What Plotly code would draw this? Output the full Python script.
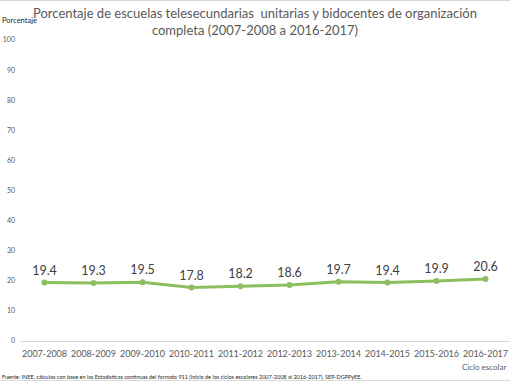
import plotly.graph_objects as go

ciclos = ["2007-2008", "2008-2009", "2009-2010", "2010-2011", "2011-2012",
          "2012-2013", "2013-2014", "2014-2015", "2015-2016", "2016-2017"]
porcentaje = [19.4, 19.3, 19.5, 17.8, 18.2, 18.6, 19.7, 19.4, 19.9, 20.6]

titulo = "Porcentaje de escuelas telesecundarias  unitarias y bidocentes de organización<br>completa (2007-2008 a 2016-2017)"
fuente = "Fuente: INEE, cálculos con base en las Estadísticas continuas del formato 911 (inicio de los ciclos escolares 2007-2008 al 2016-2017), SEP-DGPPyEE."

W, H = 510, 382
L, R, T, B = 20, 0, 40, 41
ph = H - T - B
pw = W - L - R

def py(p):
    return (H - B - p) / ph

def px(p):
    return (p - L) / pw

gris = "#595959"
fig = go.Figure()
fig.add_trace(go.Scatter(
    x=ciclos, y=porcentaje, mode="lines+markers+text",
    line=dict(color="#8cbf5f", width=3),
    marker=dict(color="#8cbf5f", size=6),
    text=[f"{v:.1f}" for v in porcentaje],
    textposition="top center",
    textfont=dict(family="Lato", size=12.5, color="#404040"),
    cliponaxis=False, showlegend=False, hoverinfo="skip",
))
fig.update_layout(
    width=W, height=H,
    margin=dict(l=L, r=R, t=T, b=B, autoexpand=False),
    paper_bgcolor="white", plot_bgcolor="white",
    font=dict(family="Lato", color=gris),
    xaxis=dict(showgrid=False, showline=True, linecolor="#d9d9d9", linewidth=1,
               ticks="", tickangle=0, tickfont=dict(size=9, color=gris),
               ticklabelstandoff=4, range=[-0.5, 9.5]),
    yaxis=dict(range=[0, 100], tickvals=list(range(0, 101, 10)), showgrid=False,
               zeroline=False, showline=False, ticks="",
               tickfont=dict(size=7, color=gris), ticklabelstandoff=4),
    annotations=[
        dict(text=titulo, x=px(255), y=py(21.5), xref="paper", yref="paper",
             xanchor="center", yanchor="middle", showarrow=False,
             font=dict(size=13, color=gris)),
        dict(text="Porcentaje", x=px(0), y=py(27), xref="paper", yref="paper",
             xanchor="left", yanchor="bottom", showarrow=False,
             font=dict(size=7.5, color="#262626")),
        dict(text="Ciclo escolar", x=px(508), y=py(367), xref="paper", yref="paper",
             xanchor="right", yanchor="middle", showarrow=False,
             font=dict(size=8, color=gris)),
        dict(text=fuente, x=px(0), y=py(377), xref="paper", yref="paper",
             xanchor="left", yanchor="middle", showarrow=False,
             font=dict(size=5.5, color="#262626")),
    ],
)
for yy in (0.5, 380.5):
    fig.add_shape(type="line", xref="paper", yref="paper", x0=px(0), x1=px(W),
                  y0=py(yy), y1=py(yy), line=dict(color="#d9d9d9", width=1))
fig.write_html("out.html", config={"displayModeBar": False},
               post_script="document.body.style.margin='0';document.body.style.overflow='hidden';")
